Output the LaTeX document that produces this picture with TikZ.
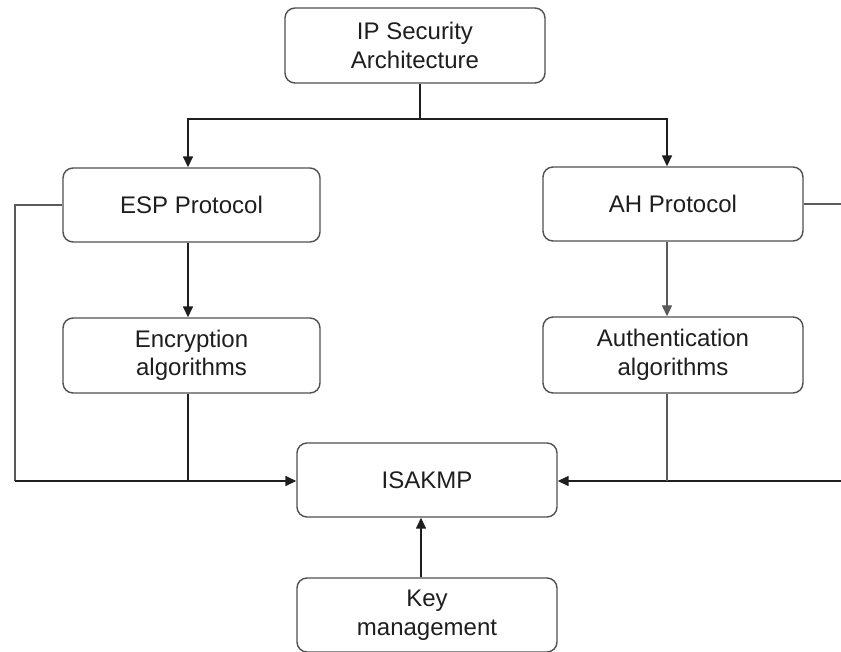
\documentclass[tikz,border=0pt]{standalone}
\usepackage{fontspec}
\setmainfont{Liberation Sans}
\usetikzlibrary{arrows.meta}
\definecolor{boxline}{HTML}{505050}
\definecolor{ink}{HTML}{1E1E1E}
\definecolor{thinline}{HTML}{5A5A5A}
\tikzset{
  blockbox/.style={draw=boxline, line width=1.4pt, rounded corners=10pt,
    minimum width=260pt, minimum height=75pt, align=center,
    text=ink, font=\fontsize{24pt}{28.5pt}\selectfont, inner sep=0pt},
  link/.style={draw=ink, line width=1.5pt},
  greylink/.style={draw=thinline, line width=1.3pt},
  tip/.style={-{Triangle[length=11pt,width=10pt]}}
}
\begin{document}
\begin{tikzpicture}[x=1pt,y=-1pt]
  \fill[white] (0,0) rectangle (841,651);
  \useasboundingbox (0,0) rectangle (841,651);
  \clip (0,0) rectangle (841,651);

  % boxes
  \node[blockbox] (ipsa) at (415,45.5) {IP Security\\Architecture};
  \node[blockbox, minimum width=257pt, minimum height=74pt] (esp) at (191.5,205) {ESP Protocol};
  \node[blockbox, minimum height=74pt] (ah) at (673,204) {AH Protocol};
  \node[blockbox, minimum width=257pt] (enc) at (191.5,355.5) {Encryption\\algorithms};
  \node[blockbox, minimum height=76pt] (auth) at (673,355) {Authentication\\algorithms};
  \node[blockbox, minimum height=74pt] (isakmp) at (427,480) {ISAKMP};
  \node[blockbox, minimum height=74pt] (key) at (427,615) {Key\\management};

  % branch from the architecture box
  \coordinate (split) at (420,119);
  \draw[link] (ipsa.south -| split) -- (split);
  \draw[link, tip] (split) -| ([xshift=-3.5pt]esp.north);
  \draw[link, tip] (split) -| ([xshift=-6pt]ah.north);

  % protocols to their algorithms
  \draw[link, tip] ([xshift=-3.5pt]esp.south) -- ([xshift=-3.5pt]enc.north);
  \draw[greylink, tip] ([xshift=-6pt]ah.south) -- ([xshift=-6pt]auth.north);

  % left bus into ISAKMP
  \coordinate (lbus) at (15,481);
  \draw[greylink] (esp.west) -| (lbus);
  \draw[link, tip] (lbus) -- (isakmp.west |- lbus);
  \draw[link] ([xshift=-3.5pt]enc.south) -- ([xshift=-3.5pt]enc.south |- lbus);

  % right bus into ISAKMP
  \coordinate (rbus) at (850,481);
  \draw[greylink] (ah.east) -| (rbus);
  \draw[link, tip] (rbus) -- (isakmp.east |- rbus);
  \draw[greylink] ([xshift=-6pt]auth.south) -- ([xshift=-6pt]auth.south |- rbus);

  % key management up to ISAKMP
  \draw[link, tip] ([xshift=-6pt]key.north) -- ([xshift=-6pt]isakmp.south);
\end{tikzpicture}
\end{document}
